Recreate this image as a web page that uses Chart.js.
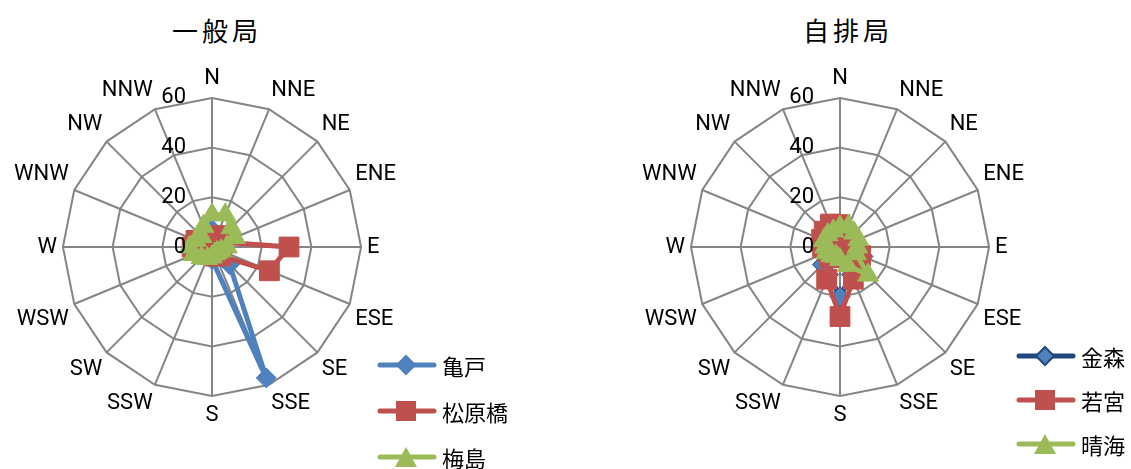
<!DOCTYPE html>
<html>
<head>
<meta charset="utf-8">
<script src="https://cdn.jsdelivr.net/npm/chart.js@4/dist/chart.umd.min.js"></script>
<style>
  body { margin: 0; background: #fff; width: 1131px; height: 469px; position: relative; overflow: hidden;
         font-family: Roboto, "Noto Sans CJK JP", sans-serif; }
  .title { position: absolute; top: 11px; font-size: 26px; letter-spacing: 4px; font-family: "Noto Sans CJK JP", sans-serif; color: #000; }
  .wrap { position: absolute; top: 47px; width: 420px; height: 400px; }
  .legend { position: absolute; font-family: "Noto Sans CJK JP", sans-serif; font-size: 22px; white-space: nowrap; }
  .legend div { display: flex; align-items: center; }
  .legend svg { margin-right: 4px; }
</style>
</head>
<body>
<div class="title" style="left:172px">一般局</div>
<div class="title" style="left:803px">自排局</div>
<div class="wrap" style="left:-5px"><canvas id="chartA"></canvas></div>
<div class="wrap" style="left:623px"><canvas id="chartB"></canvas></div>
<div class="legend" id="legendA" style="left:376px; top:342px"></div>
<div class="legend" id="legendB" style="left:1015px; top:334px"></div>
<script>
// directions (N clockwise)
const directions = ["N","NNE","NE","ENE","E","ESE","SE","SSE","S","SSW","SW","WSW","W","WNW","NW","NNW"];
const tickValues = [0, 20, 40, 60];

// 一般局
const kameido   = [7, 3, 3, 3, 3, 5, 10, 57, 5, 3, 2, 2, 2, 2, 2, 3];
const matsubara = [4, 5, 4, 5, 31, 25, 5, 4, 3, 2, 2, 3, 8, 7, 4, 4];
const umejima   = [13, 14, 11, 10, 6, 4, 3, 3, 4, 5, 6, 8, 9, 7, 6, 9];

// 自排局
const kanamori  = [5, 4, 4, 4, 7, 10, 8, 12, 20, 12, 10, 5, 4, 4, 4, 4];
const wakamiya  = [9, 6, 4, 4, 5, 9, 11, 14, 28, 14, 6, 5, 7, 8, 9, 10];
const harumi    = [8, 9, 8, 8, 7, 7, 16, 8, 5, 4, 5, 6, 6, 7, 7, 7];

const blue = "#4F81BD", red = "#C0504D", green = "#9BBB59", navy = "#1F497D";

function makeSet(label, data, color, style, radius, order, fill) {
  return {
    label: label,
    data: data,
    borderColor: color,
    backgroundColor: fill || color,
    pointBackgroundColor: fill || color,
    pointBorderColor: color,
    pointBorderWidth: 1,
    borderWidth: 5,
    pointStyle: style,
    pointRadius: radius,
    fill: false,
    order: order
  };
}

// draws 0/20/40/60 to the left of the vertical axis
const tickPlugin = {
  id: "tickLeft",
  afterDatasetsDraw(chart) {
    const scale = chart.scales.r;
    const ctx = chart.ctx;
    ctx.save();
    ctx.font = "22px Roboto";
    ctx.fillStyle = "#000";
    ctx.textAlign = "right";
    ctx.textBaseline = "middle";
    tickValues.forEach((v) => {
      const d = scale.getDistanceFromCenterForValue(v);
      ctx.fillText(String(v), scale.xCenter - 26, scale.yCenter - d);
    });
    ctx.restore();
  }
};

function initChart(canvas, sets) {
  return new Chart(canvas, {
    type: "radar",
    data: { labels: directions, datasets: sets },
    options: {
      responsive: false,
      animation: false,
      layout: { padding: 12 },
      plugins: { legend: { display: false }, tooltip: { enabled: false } },
      elements: { line: { tension: 0 } },
      scales: {
        r: {
          min: 0, max: 60,
          ticks: { stepSize: 20, display: false },
          grid: { color: "#858585", lineWidth: 2 },
          angleLines: { color: "#858585", lineWidth: 2 },
          pointLabels: { font: { size: 22, family: "Roboto" }, color: "#000", padding: 6 }
        }
      }
    },
    plugins: [tickPlugin]
  });
}

function legendIcon(color, shape, fill) {
  let mark = "";
  if (shape === "diamond") mark = `<polygon points="30,3 39,12 30,21 21,12" fill="${fill}" stroke="${color}" stroke-width="2"/>`;
  if (shape === "square") mark = `<rect x="20" y="2" width="20" height="20" fill="${color}"/>`;
  if (shape === "triangle") mark = `<polygon points="30,2 41,22 19,22" fill="${color}"/>`;
  return `<svg width="62" height="24"><line x1="4" y1="12" x2="58" y2="12" stroke="${color}" stroke-width="5" stroke-linecap="round"/>${mark}</svg>`;
}

function injectLegend(target, items, rowHeight) {
  target.innerHTML = "";
  items.forEach((item) => {
    target.innerHTML += `<div style="height:${rowHeight}px">${legendIcon(item[1], item[2], item[3] || item[1])}${item[0]}</div>`;
  });
}

function mainEvent() {
  const a = document.querySelector("#chartA");
  const b = document.querySelector("#chartB");
  a.width = 420; a.height = 400;
  b.width = 420; b.height = 400;

  initChart(a, [
    makeSet("亀戸", kameido, blue, "rectRot", 10, 2),
    makeSet("松原橋", matsubara, red, "rect", 14, 1),
    makeSet("梅島", umejima, green, "triangle", 12, 0)
  ]);
  initChart(b, [
    makeSet("金森", kanamori, navy, "rectRot", 10, 2, blue),
    makeSet("若宮", wakamiya, red, "rect", 14, 1),
    makeSet("晴海", harumi, green, "triangle", 12, 0)
  ]);

  injectLegend(document.querySelector("#legendA"), [["亀戸", blue, "diamond"], ["松原橋", red, "square"], ["梅島", green, "triangle"]], 46);
  injectLegend(document.querySelector("#legendB"), [["金森", navy, "diamond", blue], ["若宮", red, "square"], ["晴海", green, "triangle"]], 44);
}
document.addEventListener("DOMContentLoaded", () => mainEvent());
</script>
</body>
</html>
